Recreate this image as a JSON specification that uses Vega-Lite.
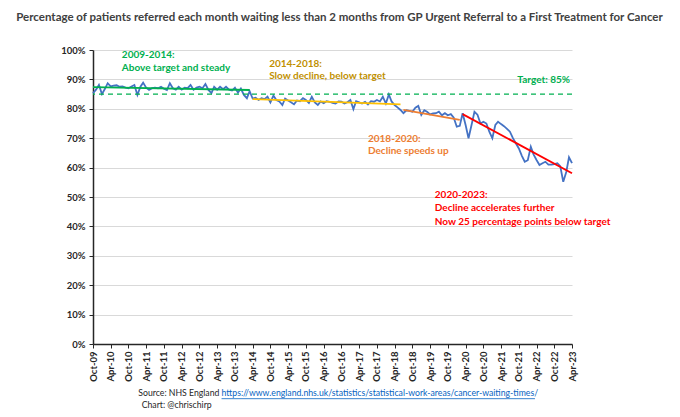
{
  "$schema": "https://vega.github.io/schema/vega-lite/v6.json",
  "width": 479,
  "height": 294,
  "autosize": "none",
  "padding": {"left": 93, "top": 50, "right": 108, "bottom": 73},
  "background": "white",
  "config": {
    "font": "Lato",
    "view": {"stroke": null},
    "axis": {"labelFont": "Lato", "titleFont": "Lato"}
  },
  "title": {
    "text": "Percentage of patients referred each month waiting less than 2 months from GP Urgent Referral to a First Treatment for Cancer",
    "font": "Lato",
    "fontSize": 11.5,
    "fontWeight": "bold",
    "color": "#404040",
    "anchor": "middle",
    "dx": 7,
    "offset": 22
  },
  "datasets": {
    "wait": [
      {"month": "2009-10-01", "pct": 85.3}, {"month": "2009-11-01", "pct": 86.5}, {"month": "2009-12-01", "pct": 88.1},
      {"month": "2010-01-01", "pct": 85.0}, {"month": "2010-02-01", "pct": 86.8}, {"month": "2010-03-01", "pct": 88.7},
      {"month": "2010-04-01", "pct": 87.6}, {"month": "2010-05-01", "pct": 87.9}, {"month": "2010-06-01", "pct": 88.0},
      {"month": "2010-07-01", "pct": 87.5}, {"month": "2010-08-01", "pct": 87.6}, {"month": "2010-09-01", "pct": 87.2},
      {"month": "2010-10-01", "pct": 87.0}, {"month": "2010-11-01", "pct": 87.6}, {"month": "2010-12-01", "pct": 88.1},
      {"month": "2011-01-01", "pct": 84.7}, {"month": "2011-02-01", "pct": 87.5}, {"month": "2011-03-01", "pct": 88.9},
      {"month": "2011-04-01", "pct": 87.2}, {"month": "2011-05-01", "pct": 86.4}, {"month": "2011-06-01", "pct": 87.0},
      {"month": "2011-07-01", "pct": 87.2}, {"month": "2011-08-01", "pct": 87.0}, {"month": "2011-09-01", "pct": 87.5},
      {"month": "2011-10-01", "pct": 86.8}, {"month": "2011-11-01", "pct": 86.4}, {"month": "2011-12-01", "pct": 88.7},
      {"month": "2012-01-01", "pct": 87.0}, {"month": "2012-02-01", "pct": 86.5}, {"month": "2012-03-01", "pct": 87.5},
      {"month": "2012-04-01", "pct": 86.5}, {"month": "2012-05-01", "pct": 87.2}, {"month": "2012-06-01", "pct": 87.0},
      {"month": "2012-07-01", "pct": 88.1}, {"month": "2012-08-01", "pct": 86.5}, {"month": "2012-09-01", "pct": 87.2},
      {"month": "2012-10-01", "pct": 87.5}, {"month": "2012-11-01", "pct": 87.0}, {"month": "2012-12-01", "pct": 88.4},
      {"month": "2013-01-01", "pct": 86.4}, {"month": "2013-02-01", "pct": 85.3}, {"month": "2013-03-01", "pct": 87.5},
      {"month": "2013-04-01", "pct": 86.5}, {"month": "2013-05-01", "pct": 87.5}, {"month": "2013-06-01", "pct": 86.7},
      {"month": "2013-07-01", "pct": 87.5}, {"month": "2013-08-01", "pct": 86.5}, {"month": "2013-09-01", "pct": 86.2},
      {"month": "2013-10-01", "pct": 87.2}, {"month": "2013-11-01", "pct": 85.5}, {"month": "2013-12-01", "pct": 86.9},
      {"month": "2014-01-01", "pct": 84.7}, {"month": "2014-02-01", "pct": 83.6}, {"month": "2014-03-01", "pct": 86.0},
      {"month": "2014-04-01", "pct": 83.5}, {"month": "2014-05-01", "pct": 83.8}, {"month": "2014-06-01", "pct": 83.0},
      {"month": "2014-07-01", "pct": 83.6}, {"month": "2014-08-01", "pct": 83.3}, {"month": "2014-09-01", "pct": 84.1},
      {"month": "2014-10-01", "pct": 82.2}, {"month": "2014-11-01", "pct": 84.5}, {"month": "2014-12-01", "pct": 83.0},
      {"month": "2015-01-01", "pct": 82.5}, {"month": "2015-02-01", "pct": 81.3}, {"month": "2015-03-01", "pct": 83.5},
      {"month": "2015-04-01", "pct": 82.8}, {"month": "2015-05-01", "pct": 82.2}, {"month": "2015-06-01", "pct": 81.5},
      {"month": "2015-07-01", "pct": 82.8}, {"month": "2015-08-01", "pct": 82.6}, {"month": "2015-09-01", "pct": 83.6},
      {"month": "2015-10-01", "pct": 83.0}, {"month": "2015-11-01", "pct": 82.0}, {"month": "2015-12-01", "pct": 84.1},
      {"month": "2016-01-01", "pct": 82.2}, {"month": "2016-02-01", "pct": 81.3}, {"month": "2016-03-01", "pct": 82.5},
      {"month": "2016-04-01", "pct": 81.9}, {"month": "2016-05-01", "pct": 82.6}, {"month": "2016-06-01", "pct": 82.4},
      {"month": "2016-07-01", "pct": 82.0}, {"month": "2016-08-01", "pct": 81.8}, {"month": "2016-09-01", "pct": 82.5},
      {"month": "2016-10-01", "pct": 82.4}, {"month": "2016-11-01", "pct": 81.8}, {"month": "2016-12-01", "pct": 82.2},
      {"month": "2017-01-01", "pct": 83.0}, {"month": "2017-02-01", "pct": 79.9}, {"month": "2017-03-01", "pct": 82.6},
      {"month": "2017-04-01", "pct": 82.2}, {"month": "2017-05-01", "pct": 81.8}, {"month": "2017-06-01", "pct": 82.4},
      {"month": "2017-07-01", "pct": 81.5}, {"month": "2017-08-01", "pct": 82.6}, {"month": "2017-09-01", "pct": 82.4},
      {"month": "2017-10-01", "pct": 83.0}, {"month": "2017-11-01", "pct": 82.5}, {"month": "2017-12-01", "pct": 84.1},
      {"month": "2018-01-01", "pct": 81.8}, {"month": "2018-02-01", "pct": 84.9}, {"month": "2018-03-01", "pct": 82.5},
      {"month": "2018-04-01", "pct": 81.3}, {"month": "2018-05-01", "pct": 80.5}, {"month": "2018-06-01", "pct": 79.6},
      {"month": "2018-07-01", "pct": 78.5}, {"month": "2018-08-01", "pct": 79.5}, {"month": "2018-09-01", "pct": 79.3},
      {"month": "2018-10-01", "pct": 79.0}, {"month": "2018-11-01", "pct": 80.4}, {"month": "2018-12-01", "pct": 81.0},
      {"month": "2019-01-01", "pct": 77.9}, {"month": "2019-02-01", "pct": 79.5}, {"month": "2019-03-01", "pct": 79.0},
      {"month": "2019-04-01", "pct": 78.1}, {"month": "2019-05-01", "pct": 78.4}, {"month": "2019-06-01", "pct": 78.5},
      {"month": "2019-07-01", "pct": 79.0}, {"month": "2019-08-01", "pct": 77.8}, {"month": "2019-09-01", "pct": 78.5},
      {"month": "2019-10-01", "pct": 77.8}, {"month": "2019-11-01", "pct": 78.2}, {"month": "2019-12-01", "pct": 77.0},
      {"month": "2020-01-01", "pct": 73.9}, {"month": "2020-02-01", "pct": 74.2}, {"month": "2020-03-01", "pct": 78.5},
      {"month": "2020-04-01", "pct": 74.5}, {"month": "2020-05-01", "pct": 70.0}, {"month": "2020-06-01", "pct": 74.5},
      {"month": "2020-07-01", "pct": 79.0}, {"month": "2020-08-01", "pct": 78.0}, {"month": "2020-09-01", "pct": 75.0},
      {"month": "2020-10-01", "pct": 75.6}, {"month": "2020-11-01", "pct": 75.0}, {"month": "2020-12-01", "pct": 72.2},
      {"month": "2021-01-01", "pct": 70.0}, {"month": "2021-02-01", "pct": 74.5}, {"month": "2021-03-01", "pct": 75.6},
      {"month": "2021-04-01", "pct": 74.8}, {"month": "2021-05-01", "pct": 74.1}, {"month": "2021-06-01", "pct": 73.2},
      {"month": "2021-07-01", "pct": 72.2}, {"month": "2021-08-01", "pct": 70.0}, {"month": "2021-09-01", "pct": 68.2},
      {"month": "2021-10-01", "pct": 66.5}, {"month": "2021-11-01", "pct": 64.0}, {"month": "2021-12-01", "pct": 62.0},
      {"month": "2022-01-01", "pct": 62.5}, {"month": "2022-02-01", "pct": 67.1}, {"month": "2022-03-01", "pct": 64.5},
      {"month": "2022-04-01", "pct": 62.6}, {"month": "2022-05-01", "pct": 60.9}, {"month": "2022-06-01", "pct": 61.5},
      {"month": "2022-07-01", "pct": 62.0}, {"month": "2022-08-01", "pct": 61.0}, {"month": "2022-09-01", "pct": 61.0},
      {"month": "2022-10-01", "pct": 61.2}, {"month": "2022-11-01", "pct": 61.5}, {"month": "2022-12-01", "pct": 60.5},
      {"month": "2023-01-01", "pct": 55.2}, {"month": "2023-02-01", "pct": 58.5}, {"month": "2023-03-01", "pct": 63.5},
      {"month": "2023-04-01", "pct": 61.5}
    ],
    "trend": [
      {"period": "2009-2014", "month": "2009-10-01", "pct": 87.4},
      {"period": "2009-2014", "month": "2014-03-01", "pct": 86.4},
      {"period": "2014-2018", "month": "2014-04-01", "pct": 83.3},
      {"period": "2014-2018", "month": "2018-06-01", "pct": 81.5},
      {"period": "2018-2020", "month": "2018-07-01", "pct": 79.6},
      {"period": "2018-2020", "month": "2020-02-01", "pct": 76.2},
      {"period": "2020-2023", "month": "2020-03-01", "pct": 78.2},
      {"period": "2020-2023", "month": "2023-04-01", "pct": 58.1}
    ],
    "notes": [
      {"period": "2009-2014", "month": "2010-07-25", "pct": 98.3, "text": "2009-2014:"},
      {"period": "2009-2014", "month": "2010-07-25", "pct": 93.9, "text": "Above target and steady"},
      {"period": "2014-2018", "month": "2014-09-18", "pct": 95.2, "text": "2014-2018:"},
      {"period": "2014-2018", "month": "2014-09-18", "pct": 91.2, "text": "Slow decline, below target"},
      {"period": "target", "month": "2021-09-15", "pct": 89.8, "text": "Target: 85%"},
      {"period": "2018-2020", "month": "2017-07-01", "pct": 69.6, "text": "2018-2020:"},
      {"period": "2018-2020", "month": "2017-07-01", "pct": 65.5, "text": "Decline speeds up"},
      {"period": "2020-2023", "month": "2019-05-20", "pct": 50.7, "text": "2020-2023:"},
      {"period": "2020-2023", "month": "2019-05-20", "pct": 46.2, "text": "Decline accelerates further"},
      {"period": "2020-2023", "month": "2019-05-20", "pct": 41.6, "text": "Now 25 percentage points below target"}
    ],
    "footerRight": [
      {"month": "2013-04-24", "pct": -16.6, "text": "Source: NHS England"}
    ],
    "footer": [
      {"kind": "link", "month": "2013-05-16", "pct": -16.6, "text": "https://www.england.nhs.uk/statistics/statistical-work-areas/cancer-waiting-times/"},
      {"kind": "plain", "month": "2011-02-14", "pct": -20.9, "text": "Chart: @chrischirp"}
    ],
    "underline": [
      {"month": "2013-05-16", "end": "2022-03-16", "pct": -18.6}
    ]
  },
  "resolve": {"scale": {"color": "independent"}},
  "layer": [
    {
      "data": {"name": "wait"},
      "mark": {"type": "line", "color": "#4472C4", "strokeWidth": 1.8},
      "encoding": {
        "x": {
          "field": "month", "type": "temporal",
          "scale": {"type": "utc", "nice": false},
          "axis": {
            "title": null,
            "grid": false,
            "format": "%b-%y",
            "labelAngle": -90,
            "labelOverlap": false,
            "tickCount": 60,
            "labelFontWeight": "bold",
            "labelFontSize": 9.5,
            "labelColor": "#262626",
            "labelPadding": 3,
            "tickSize": 4,
            "tickColor": "#262626",
            "domainColor": "#262626",
            "domainWidth": 1.5,
            "values": [
              {"year": 2009, "month": 10, "date": 1, "utc": true},
              {"year": 2010, "month": 4, "date": 1, "utc": true}, {"year": 2010, "month": 10, "date": 1, "utc": true},
              {"year": 2011, "month": 4, "date": 1, "utc": true}, {"year": 2011, "month": 10, "date": 1, "utc": true},
              {"year": 2012, "month": 4, "date": 1, "utc": true}, {"year": 2012, "month": 10, "date": 1, "utc": true},
              {"year": 2013, "month": 4, "date": 1, "utc": true}, {"year": 2013, "month": 10, "date": 1, "utc": true},
              {"year": 2014, "month": 4, "date": 1, "utc": true}, {"year": 2014, "month": 10, "date": 1, "utc": true},
              {"year": 2015, "month": 4, "date": 1, "utc": true}, {"year": 2015, "month": 10, "date": 1, "utc": true},
              {"year": 2016, "month": 4, "date": 1, "utc": true}, {"year": 2016, "month": 10, "date": 1, "utc": true},
              {"year": 2017, "month": 4, "date": 1, "utc": true}, {"year": 2017, "month": 10, "date": 1, "utc": true},
              {"year": 2018, "month": 4, "date": 1, "utc": true}, {"year": 2018, "month": 10, "date": 1, "utc": true},
              {"year": 2019, "month": 4, "date": 1, "utc": true}, {"year": 2019, "month": 10, "date": 1, "utc": true},
              {"year": 2020, "month": 4, "date": 1, "utc": true}, {"year": 2020, "month": 10, "date": 1, "utc": true},
              {"year": 2021, "month": 4, "date": 1, "utc": true}, {"year": 2021, "month": 10, "date": 1, "utc": true},
              {"year": 2022, "month": 4, "date": 1, "utc": true}, {"year": 2022, "month": 10, "date": 1, "utc": true},
              {"year": 2023, "month": 4, "date": 1, "utc": true}
            ]
          }
        },
        "y": {
          "field": "pct", "type": "quantitative",
          "scale": {"domain": [0, 100], "nice": false},
          "axis": {
            "title": null,
            "values": [0, 10, 20, 30, 40, 50, 60, 70, 80, 90, 100],
            "tickCount": 20,
            "labelOverlap": false,
            "labelExpr": "datum.value + '%'",
            "labelFontWeight": "bold",
            "labelFontSize": 9.5,
            "labelColor": "#262626",
            "labelPadding": 4,
            "tickSize": 4,
            "tickColor": "#262626",
            "domainColor": "#262626",
            "domainWidth": 1.5,
            "gridColor": "#D9D9D9",
            "gridWidth": 1
          }
        }
      }
    },
    {
      "data": {"values": [{"target": 85}]},
      "mark": {"type": "rule", "color": "#00B050", "strokeWidth": 1.3, "strokeDash": [5, 4]},
      "encoding": {"y": {"field": "target", "type": "quantitative"}}
    },
    {
      "data": {"name": "trend"},
      "mark": {"type": "line", "strokeWidth": 1.8},
      "encoding": {
        "x": {"field": "month", "type": "temporal"},
        "y": {"field": "pct", "type": "quantitative"},
        "detail": {"field": "period"},
        "color": {
          "field": "period", "type": "nominal", "legend": null,
          "scale": {"domain": ["2009-2014", "2014-2018", "2018-2020", "2020-2023"], "range": ["#00B050", "#FFC000", "#ED7D31", "#FF0000"]}
        }
      }
    },
    {
      "data": {"name": "notes"},
      "mark": {"type": "text", "align": "left", "baseline": "middle", "fontWeight": "bold", "fontSize": 10, "font": "Lato"},
      "encoding": {
        "x": {"field": "month", "type": "temporal"},
        "y": {"field": "pct", "type": "quantitative"},
        "text": {"field": "text"},
        "color": {
          "field": "period", "type": "nominal", "legend": null,
          "scale": {"domain": ["2009-2014", "2014-2018", "target", "2018-2020", "2020-2023"], "range": ["#00B050", "#BF9000", "#00B050", "#ED7D31", "#FF0000"]}
        }
      }
    },
    {
      "data": {"name": "footerRight"},
      "mark": {"type": "text", "align": "right", "baseline": "middle", "fontSize": 8.7, "font": "Lato", "color": "#262626"},
      "encoding": {
        "x": {"field": "month", "type": "temporal"},
        "y": {"field": "pct", "type": "quantitative"},
        "text": {"field": "text"}
      }
    },
    {
      "data": {"name": "footer"},
      "mark": {"type": "text", "align": "left", "baseline": "middle", "fontSize": 8.7, "font": "Lato"},
      "encoding": {
        "x": {"field": "month", "type": "temporal"},
        "y": {"field": "pct", "type": "quantitative"},
        "text": {"field": "text"},
        "color": {
          "field": "kind", "type": "nominal", "legend": null,
          "scale": {"domain": ["plain", "link"], "range": ["#262626", "#0563C1"]}
        }
      }
    },
    {
      "data": {"name": "underline"},
      "mark": {"type": "rule", "color": "#0563C1", "strokeWidth": 0.8},
      "encoding": {
        "x": {"field": "month", "type": "temporal"},
        "x2": {"field": "end"},
        "y": {"field": "pct", "type": "quantitative"}
      }
    }
  ]
}
